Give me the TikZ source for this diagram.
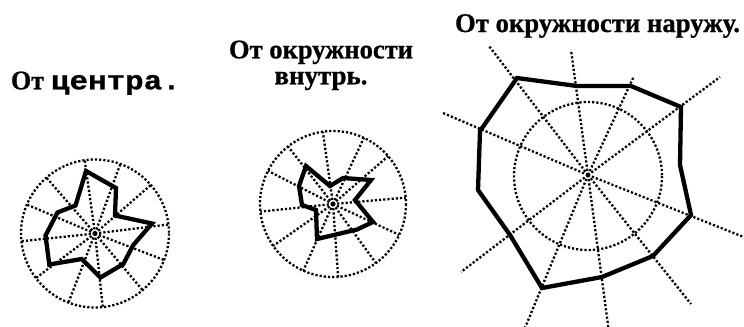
\documentclass[tikz,border=0pt]{standalone}
\usepackage{fontspec}
\usepackage{graphicx}
\setmainfont{Liberation Serif}[BoldFeatures={FakeBold=0.8}]
\newfontfamily\monof{Liberation Mono}[BoldFeatures={FakeBold=0.8}]
\newsavebox\fitbox
\newcommand\fitw[2]{\sbox\fitbox{#2}\pgfmathsetmacro\fitratio{#1/\the\wd\fitbox}\scalebox{\fitratio}[1]{\usebox\fitbox}}
\begin{document}
\begin{tikzpicture}[x=1bp,y=-1bp,
  dotline/.style={line width=2.3bp, dash pattern=on 2.2bp off 2bp},
  profile/.style={line width=4.3bp, line join=miter},
  title/.style={font=\fontsize{27}{27}\selectfont\bfseries, inner sep=0pt, outer sep=0pt}]
\useasboundingbox (0,0) rectangle (744,326);
\clip (0,0) rectangle (744,326);
% ---------- chart 1
\coordinate (c1) at (95,233.5);
\draw[dotline] (c1) circle (74);
\foreach \a in {-98,-70,-41,-7,21,50,84,111,143,-186,-157,-131}
  \draw[dotline] (c1) -- ++(\a:74);
\draw[profile] (86,171) -- (116,188) -- (115,215.5) -- (152,223.5) -- (133.3,245)
  -- (123.3,264) -- (100.5,277.5) -- (81.7,259) -- (49.3,264.5) -- (45.5,235.5)
  -- (57.5,212.5) -- (75.5,205.5) -- cycle;
% ---------- chart 2
\coordinate (c2) at (333,204);
\draw[dotline] (c2) circle (73);
\foreach \a in {-98,-65,-41,-5,25,54,86,114,145,174,-153,-128}
  \draw[dotline] (c2) -- ++(\a:73);
\draw[profile] (306,166) -- (330,186) -- (343,178) -- (371,180) -- (355,200)
  -- (373,222) -- (357,229.5) -- (317,239) -- (316,210) -- (302,205) -- (299,186) -- cycle;
% ---------- chart 3
\coordinate (c3) at (588,175);
\draw[dotline] (588,176) circle (74);
\foreach \p in {(489,46),(571,50),(634,76),(720,77),(443,113),(750,239.5),(691,304),(610,340),(520,340),(461,272)}
  \draw[dotline] (c3) -- \p;
\draw[profile] (517,78) -- (577,86) -- (631,86) -- (681,107) -- (680,165) -- (691,215)
  -- (653,256) -- (602,277) -- (542,288) -- (510,235) -- (478,190) -- (480,131) -- cycle;
% ---------- titles
\node[title, anchor=base west] (t1) at (11,89.3)
  {\fitw{33bp}{От}\hspace{7bp}\scalebox{1}[0.86]{\monof\fontsize{31}{31}\selectfont центра.}};
\node[title, anchor=base] (t2a) at (321,58.3) {\fitw{184bp}{От окружности}};
\node[title, anchor=base] (t2b) at (321,84.3) {\fitw{93bp}{внутрь.}};
\node[title, anchor=base west] (t3) at (455,32) {\fitw{285bp}{От окружности наружу.}};
\end{tikzpicture}
\end{document}
